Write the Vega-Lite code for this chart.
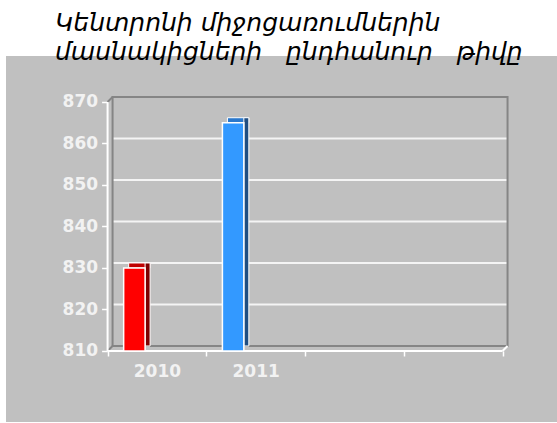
{
  "$schema": "https://vega.github.io/schema/vega-lite/v6.json",
  "width": 551,
  "height": 366,
  "autosize": {"type": "none"},
  "padding": {"left": 6, "top": 56, "right": 0, "bottom": 1},
  "background": "white",
  "view": {"fill": "#c0c0c0", "stroke": null},
  "title": {
    "text": ["Կենտրոնի միջոցառումներին", "մասնակիցների \u00a0\u00a0ընդհանուր \u00a0\u00a0թիվը"],
    "anchor": "start",
    "frame": "group",
    "dx": 49,
    "offset": -9,
    "font": "DejaVu Sans",
    "fontStyle": "italic",
    "fontWeight": "normal",
    "fontSize": 25,
    "lineHeight": 29,
    "color": "#000000"
  },
  "datasets": {
    "counts": [
      {"year": "2010", "count": 830},
      {"year": "2011", "count": 865}
    ],
    "grid": [
      {"level": 820}, {"level": 830}, {"level": 840}, {"level": 850}, {"level": 860}
    ],
    "frame": [{"part": "wall"}]
  },
  "layer": [
    {
      "data": {"name": "grid"},
      "mark": {"type": "rule", "color": "#f4f4f4", "strokeWidth": 2, "xOffset": 5, "x2Offset": 5, "yOffset": -5},
      "encoding": {
        "x": {"datum": "2010", "type": "nominal", "bandPosition": 0,
          "scale": {"type": "band", "domain": ["2010", "2011", "2012", "2013"], "paddingInner": 0, "paddingOuter": 0.79, "align": 0.651},
          "axis": {
            "orient": "bottom", "offset": -71, "domain": false, "grid": false, "tickBand": "extent",
            "ticks": true, "tickColor": "#ffffff", "tickSize": 5, "tickWidth": 1.5,
            "labelExpr": "datum.value == '2010' || datum.value == '2011' ? datum.value : ''",
            "labelAngle": 0, "labelPadding": 7, "labelFont": "DejaVu Sans", "labelFontWeight": "bold",
            "labelFontSize": 17, "labelColor": "#f2f2f2", "title": null
          }},
        "x2": {"datum": "2013", "bandPosition": 1},
        "y": {"field": "level", "type": "quantitative",
          "scale": {"domain": [792.89, 881.08], "nice": false, "zero": false},
          "axis": {
            "orient": "left", "offset": -101.6, "domain": false, "grid": false,
            "values": [810, 820, 830, 840, 850, 860, 870],
            "ticks": true, "tickColor": "#ffffff", "tickSize": 6, "tickWidth": 1.5,
            "labelPadding": 4, "labelFont": "DejaVu Sans", "labelFontWeight": "bold",
            "labelFontSize": 17, "labelColor": "#f2f2f2", "title": null
          }}
      }
    },
    {
      "data": {"name": "frame"},
      "mark": {"type": "rect", "fillOpacity": 0, "stroke": "#858585", "strokeWidth": 2, "xOffset": 5, "x2Offset": 5, "yOffset": -5, "y2Offset": -5},
      "encoding": {
        "x": {"datum": "2010", "type": "nominal", "bandPosition": 0},
        "x2": {"datum": "2013", "bandPosition": 1},
        "y": {"datum": 810, "type": "quantitative"},
        "y2": {"datum": 870}
      }
    },
    {
      "data": {"name": "frame"},
      "mark": {"type": "rule", "color": "#858585", "strokeWidth": 2, "x2Offset": 5, "y2Offset": -5},
      "encoding": {
        "x": {"datum": "2010", "type": "nominal", "bandPosition": 0},
        "x2": {"datum": "2010", "bandPosition": 0},
        "y": {"datum": 870, "type": "quantitative"},
        "y2": {"datum": 870}
      }
    },
    {
      "data": {"name": "frame"},
      "mark": {"type": "rule", "color": "#858585", "strokeWidth": 2, "x2Offset": 5, "y2Offset": -5},
      "encoding": {
        "x": {"datum": "2010", "type": "nominal", "bandPosition": 0},
        "x2": {"datum": "2010", "bandPosition": 0},
        "y": {"datum": 810, "type": "quantitative"},
        "y2": {"datum": 810}
      }
    },
    {
      "data": {"name": "frame"},
      "mark": {"type": "rule", "color": "#ffffff", "strokeWidth": 2, "x2Offset": 5, "y2Offset": -5},
      "encoding": {
        "x": {"datum": "2013", "type": "nominal", "bandPosition": 1},
        "x2": {"datum": "2013", "bandPosition": 1},
        "y": {"datum": 810, "type": "quantitative"},
        "y2": {"datum": 810}
      }
    },
    {
      "data": {"name": "frame"},
      "mark": {"type": "rule", "color": "#ffffff", "strokeWidth": 2},
      "encoding": {
        "x": {"datum": "2010", "type": "nominal", "bandPosition": 0},
        "y": {"datum": 810, "type": "quantitative"},
        "y2": {"datum": 870}
      }
    },
    {
      "data": {"name": "frame"},
      "mark": {"type": "rule", "color": "#ffffff", "strokeWidth": 2},
      "encoding": {
        "x": {"datum": "2010", "type": "nominal", "bandPosition": 0},
        "x2": {"datum": "2013", "bandPosition": 1},
        "y": {"datum": 810, "type": "quantitative"}
      }
    },
    {
      "data": {"name": "counts"},
      "mark": {"type": "rect", "stroke": "#ffffff", "strokeWidth": 1, "xOffset": 5, "x2Offset": 5, "yOffset": -5},
      "encoding": {
        "x": {"field": "year", "type": "nominal", "bandPosition": 0.163},
        "x2": {"field": "year", "bandPosition": 0.38},
        "y": {"field": "count", "type": "quantitative"},
        "y2": {"field": "count"},
        "fill": {"condition": {"test": "datum.year == '2010'", "value": "#c00000"}, "value": "#2a78cc"}
      }
    },
    {
      "data": {"name": "counts"},
      "mark": {"type": "rect", "stroke": "#ffffff", "strokeWidth": 1, "x2Offset": 5, "yOffset": -5, "y2Offset": -5},
      "encoding": {
        "x": {"field": "year", "type": "nominal", "bandPosition": 0.38},
        "x2": {"field": "year", "bandPosition": 0.38},
        "y": {"field": "count", "type": "quantitative"},
        "y2": {"datum": 810},
        "fill": {"condition": {"test": "datum.year == '2010'", "value": "#800000"}, "value": "#1f4e82"}
      }
    },
    {
      "data": {"name": "counts"},
      "mark": {"type": "rect", "stroke": "#ffffff", "strokeWidth": 1.5},
      "encoding": {
        "x": {"field": "year", "type": "nominal", "bandPosition": 0.163},
        "x2": {"field": "year", "bandPosition": 0.38},
        "y": {"field": "count", "type": "quantitative"},
        "y2": {"datum": 810},
        "fill": {"condition": {"test": "datum.year == '2010'", "value": "#ff0000"}, "value": "#3399ff"}
      }
    }
  ]
}
